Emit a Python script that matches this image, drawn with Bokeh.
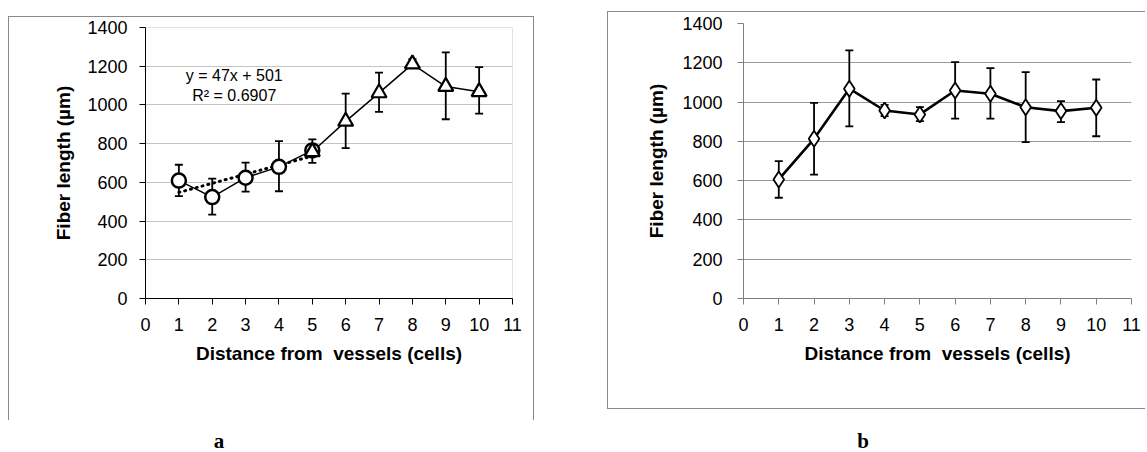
from bokeh.plotting import figure
from bokeh.layouts import row, column
from bokeh.models import ColumnDataSource, Label, FixedTicker, Range1d, Div, Spacer
from bokeh.embed import file_html
from bokeh.resources import INLINE

# ---------------- data ----------------
distance_ticks = list(range(0, 12))
length_ticks = list(range(0, 1401, 200))

# panel a: circles (1-5) and triangles (5-10)
a_circle_x = [1, 2, 3, 4, 5]
a_circle_y = [609, 524, 624, 680, 765]
a_circle_hi = [691, 619, 702, 813, 822]
a_circle_lo = [529, 433, 552, 554, 701]

a_tri_x = [5, 6, 7, 8, 9, 10]
a_tri_y = [758, 915, 1062, 1211, 1095, 1068]
a_tri_hi = [822, 1058, 1167, 1237, 1271, 1195]
a_tri_lo = [701, 777, 964, 1195, 926, 955]

trend_slope = 47
trend_intercept = 501
trend_x = [1, 5]
trend_text = ["y = 47x + 501", "R\u00b2 = 0.6907"]

# panel b: diamonds
b_x = [1, 2, 3, 4, 5, 6, 7, 8, 9, 10]
b_y = [606, 813, 1068, 957, 937, 1059, 1042, 974, 954, 971]
b_hi = [699, 996, 1263, 986, 974, 1203, 1173, 1152, 1005, 1115]
b_lo = [513, 631, 876, 928, 903, 916, 916, 796, 898, 826]

x_title = "Distance from\u00a0 vessels (cells)"
y_title = "Fiber length (\u00b5m)"
panel_labels = ["a", "b"]

FONT = "Liberation Sans"
BOX = "#8a8a8a"


def style_axes(p, axis_color, grid_color, y_standoff=12, y_label_standoff=10):
    for ax in (p.xaxis[0], p.yaxis[0]):
        ax.axis_line_color = axis_color
        ax.axis_line_width = 1
        ax.major_tick_line_color = axis_color
        ax.major_tick_out = 6
        ax.major_tick_in = 0
        ax.minor_tick_out = 0
        ax.minor_tick_in = 0
        ax.major_label_text_font = FONT
        ax.major_label_text_font_size = "18px"
        ax.major_label_text_color = "#000000"
        ax.axis_label_text_font = FONT
        ax.axis_label_text_font_size = "19px"
        ax.axis_label_text_font_style = "bold"
        ax.axis_label_text_color = "#000000"
    p.xaxis[0].ticker = FixedTicker(ticks=distance_ticks)
    p.yaxis[0].ticker = FixedTicker(ticks=length_ticks)
    p.xaxis[0].major_label_standoff = 13
    p.yaxis[0].major_label_standoff = y_standoff
    p.xaxis[0].axis_label_standoff = 9
    p.yaxis[0].axis_label_standoff = y_label_standoff
    p.xaxis[0].axis_label = x_title
    p.yaxis[0].axis_label = y_title
    p.xgrid.visible = False
    p.ygrid.grid_line_color = grid_color
    p.ygrid.grid_line_width = 1
    p.background_fill_color = "white"
    p.border_fill_alpha = 0


def add_errorbars(p, xs, lo, hi, cap=8, lw=1.8):
    src = ColumnDataSource(dict(x=xs, lo=lo, hi=hi))
    p.segment(x0="x", y0="lo", x1="x", y1="hi", source=src,
              line_color="black", line_width=lw)
    p.dash(x="x", y="hi", source=src, size=cap, line_color="black", line_width=lw)
    p.dash(x="x", y="lo", source=src, size=cap, line_color="black", line_width=lw)


# ---------------- panel a ----------------
pa = figure(frame_width=367, frame_height=271,
            min_border_left=137, min_border_right=22,
            min_border_top=11, min_border_bottom=122,
            x_range=Range1d(0, 11), y_range=Range1d(0, 1400),
            output_backend="svg", toolbar_location=None,
            styles={"box-shadow": f"inset 1px 0 0 {BOX}, inset -1px 0 0 {BOX}, inset 0 1px 0 {BOX}"})
style_axes(pa, "#000000", "#c4c4c4")
pa.outline_line_color = "#e4e4e4"

trend_y = [trend_slope * x + trend_intercept for x in trend_x]
pa.line(trend_x, trend_y, line_color="black", line_width=3, line_dash="1 5",
        line_cap="round")
pa.line(a_circle_x, a_circle_y, line_color="black", line_width=1.5)
pa.line(a_tri_x, a_tri_y, line_color="black", line_width=1.5)
add_errorbars(pa, a_circle_x[:-1], a_circle_lo[:-1], a_circle_hi[:-1])
add_errorbars(pa, a_tri_x, a_tri_lo, a_tri_hi)
pa.scatter(a_circle_x, a_circle_y, marker="circle", size=14,
           fill_color="white", line_color="black", line_width=2.5)
pa.scatter(a_tri_x, a_tri_y, marker="triangle", size=15,
           fill_color="white", line_color="black", line_width=2.2)

pa.add_layout(Label(x=2.66, y=1150, text=trend_text[0], text_align="center",
                    text_baseline="middle", text_font=FONT, text_font_size="16px",
                    text_color="black"))
pa.add_layout(Label(x=2.66, y=1050, text=trend_text[1], text_align="center",
                    text_baseline="middle", text_font=FONT, text_font_size="16px",
                    text_color="black"))

# ---------------- panel b ----------------
pb = figure(frame_width=388, frame_height=275,
            min_border_left=136, min_border_right=14,
            min_border_top=12, min_border_bottom=111,
            x_range=Range1d(0, 11), y_range=Range1d(0, 1400),
            output_backend="svg", toolbar_location=None,
            styles={"box-shadow": f"inset 1px 0 0 {BOX}, inset 0 1px 0 {BOX}, inset 0 -1px 0 {BOX}"})
style_axes(pb, "#7f7f7f", "#9a9a9a", y_standoff=15, y_label_standoff=12)
pb.outline_line_color = None

pb.line(b_x, b_y, line_color="black", line_width=2.6)
add_errorbars(pb, b_x, b_lo, b_hi)
pb.scatter(b_x, b_y, marker="diamond", size=16,
           fill_color="white", line_color="black", line_width=1.8)

# ---------------- panel letters ----------------
label_style = {"font-family": "Liberation Serif", "font-weight": "bold",
               "font-size": "21px", "text-align": "center", "line-height": "32px",
               "color": "black"}
div_a = Div(text=panel_labels[0], width=40, height=30, styles=label_style)
div_b = Div(text=panel_labels[1], width=40, height=30, styles=label_style)

top_row = row(
    Spacer(width=8, height=10),
    column(Spacer(width=526, height=16), pa),
    Spacer(width=73, height=10),
    column(Spacer(width=538, height=11), pb),
)
bottom_row = row(Spacer(width=194, height=30), div_a,
                 Spacer(width=594, height=30), div_b)
layout = column(top_row, bottom_row)

open("out.html", "w").write(file_html(layout, INLINE))
